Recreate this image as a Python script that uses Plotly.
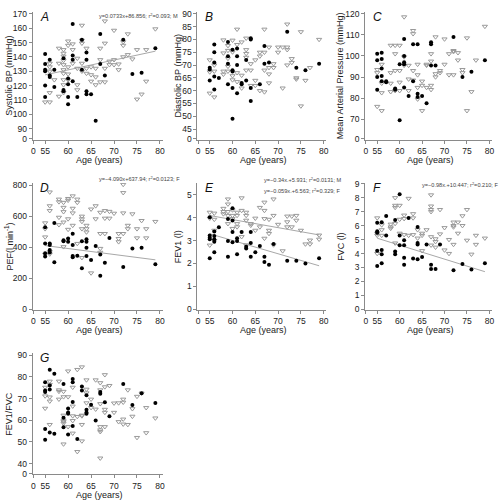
import plotly.graph_objects as go

# ---------------- DATA ----------------
x_ticks = [55, 60, 65, 70, 75, 80]

# A: Systolic BP
sbp_m_age = [55,55,55,55,55,55, 56,56,56, 57,57, 59,59,59, 60,60,60,60, 61,61,61,61, 62, 63,63, 64,64,64,64, 65, 66, 67,67, 68, 72, 74, 76, 79]
sbp_m     = [142,135,131,130,120,112, 138,127,126, 131,119, 139,117,116, 125,121,112,107, 163,141,138,123, 112, 152,131, 143,138,116,114, 114, 95.5, 156,135, 127, 152, 128, 129, 146]
sbp_f_age = [55, 56,56,56,56,56, 57, 58,58,58, 59,59,59,59,59,59,59,59,59,59, 60,60,60,60,60, 61,61,61, 62,62,62,62, 63,63,63,63,63, 64,64,64, 65,65,65, 66,66,66, 67,67,67, 68,68,68,68, 69,69, 70,70,70, 71,71, 72,72,72, 73,73, 74, 75,75, 76, 77,77, 79]
sbp_f     = [108.5, 108.5,115,133,130,135.5, 124, 146,135.5,112.5, 145,142.5,140.5,137.5,134.5,131,128.5,124,120.5,115, 151,148,133,128,124, 149,145,135.5, 139,132,120.5,117, 162,151.5,149.5,135.5,130, 146,132,128.5, 133,127.5,123, 132,126,120.5, 146,138,122.5, 165,149.5,132,122.5, 137,134.5, 158.5,138,134.5, 135,131, 150.5,148,140, 156,141.5, 138.5, 145,110.5, 114, 145,123, 159.5]
fitA_x = [55, 79]
fitA_y = [127.5, 144]

# B: Diastolic BP
dbp_m_age = [55,55,55, 56,56,56,56,56, 57, 59,59,59,59, 60,60,60,60,60, 61,61,61,61, 62,62, 63,63, 64,64,64,64, 66, 67,67, 68, 72, 74, 76, 79]
dbp_m     = [68.3,69,64, 78,75,71,65.5,60.5, 65, 79,73.5,70.5,62.5, 76,68,67.5,61,49, 76.5,73.5,70,59, 63,62.5, 72,64, 80.5,80,61,56, 62.5, 77.5,70.5, 71, 83, 69, 68, 70.5]
dbp_f_age = [55,55,55, 56,56,56, 58,58,58,58, 59,59,59,59,59, 60,60,60,60, 61,61,61,61, 62,62,62, 63,63,63,63,63, 64,64,64, 65,65,65, 66,66,66, 67,67,67,67, 68,68,68,68, 69,69, 70,70, 71,71, 72,72,72,72, 73,73, 74,74, 75,75, 76, 77, 79]
dbp_f     = [72,67.3,59, 70,67.6,57.5, 79.8,74.7,67.6,66.4, 77.6,75.7,72.6,69.5,67.6, 79.7,75.1,65.8,64.2, 84,78,67,63.5, 79,66,61, 80.5,76,74.5,73,68, 70.5,68,62, 72,64,62, 75,73.5,60, 84,75,68,59.5, 77,69,66.5,63, 70.5,69, 77,75, 77,61, 86,77,76,70, 72.5,71, 65,64.5, 83,54, 64, 69, 80]

# C: Mean arterial pressure
map_m_age = [55,55,55,55, 56,56,56,56,56, 57,57, 59,59, 60,60, 61,61,61,61,61, 62, 63,63, 64,64,64, 65, 66, 67,67,67, 68, 72, 74, 76, 79]
map_m     = [101,98,90,84, 101.5,98.5,94,90.5,88, 88,87.5, 84.5,84, 96,69.5, 108,100,97,96,85, 81, 105.5,88, 105.5,82,80.5, 81, 77.5, 106.5,105.5,95.5, 95.5, 109, 90, 92.5, 98]
map_f_age = [55,55,55, 56,56,56,56, 58,58,58,58, 59,59,59,59, 60,60,60,60, 61,61,61, 62,62,62, 63,63,63,63, 64,64,64,64, 65,65,65, 66,66,66, 67,67,67,67, 68,68,68, 69,69, 70,70, 71,71, 72,72,72, 73,73, 74,74, 75,75, 76, 77, 79]
map_f     = [93.5,92,76, 96,87,82.5,74, 105,92,87,83, 105,101,93,83.5, 105,93,87.5,83.5, 118.5,99.5,95.5, 95.5,89,83.5, 112,110.5,93,88.5, 96,91,85,79.5, 88,86,74, 96,95.5,85, 101,97.5,86,84, 109,91.5,90, 93,92, 108,96, 101,91, 102.5,102,91, 101.5,98, 93.5,92, 108.5,74, 83, 98, 114]

# D: PEF
pef_m_age = [55,55,55,55, 56,56,56,56, 57,57, 59,59, 60,60, 61,61,61,61, 62, 63,63, 64,64,64,64, 65, 66, 67,67, 68, 69, 72, 74, 76, 79]
pef_m     = [529,423,360,339, 423,413,381,366, 556,303, 444,438, 455,434, 487,413,343,334, 345, 438,264, 451,434,396,343, 317, 408, 353,216, 300, 459, 271, 391, 396, 290]
pef_f_age = [55,55,55,55, 56,56,56,56,56, 58,58,58,58, 59,59,59,59,59, 60,60,60,60, 61,61,61,61, 62,62,62, 63,63,63,63,63, 64,64,64, 65,65, 66,66, 67,67,67,67, 68,68,68, 69,69, 70, 71,71,71, 72,72,72,72, 73,73, 74, 75,75, 76, 77,77, 79]
pef_f     = [556,518,465,353, 755,666,635,370,355, 709,692,592,544, 688,656,628,561,402, 713,702,582,514, 730,650,620,540, 709,688,423, 599,582,565,518,332, 540,518,497, 645,233, 666,582, 624,487,391,366, 635,586,487, 630,586, 618, 487,455,434, 804,751,620,487, 540,518, 614, 518,459, 571, 518,459, 565]
fitD_x = [55, 79]
fitD_y = [410, 318]

# E: FEV1
fev_m_age = [55,55,55,55,55, 56,56,56,56,56, 57, 59,59,59, 60,60,60,60, 61,61,61, 62, 63,63, 64,64,64, 65, 66, 67,67, 68, 69, 72, 74, 76, 79]
fev_m     = [4.03,3.23,3.13,3.06,2.23, 3.4,3.2,3.06,2.95,2.49, 3.59, 3.95,2.98,2.3, 4.42,3.88,3.38,2.93, 3.1,2.98,2.4, 3.38, 2.73,2.66, 3.38,2.9,2.3, 2.49, 2.77, 2.3,2.06, 1.94, 2.85, 2.12, 2.12, 2.0, 2.23]
fev_f_age = [55,55,55, 56,56,56,56, 58,58,58, 59,59,59,59,59, 60,60,60,60, 61,61,61,61, 62,62,62, 63,63,63,63, 64,64, 65,65, 66,66, 67,67,67,67, 68,68,68, 69,69,69, 70, 71, 72,72,72, 73,73, 74,74, 75, 76, 77,77, 79,79]
fev_f     = [4.24,3.98,2.8, 4.2,3.93,3.45,3.0, 4.41,4.27,4.17, 4.82,4.6,4.27,4.1,3.74, 4.34,4.1,3.96,3.53, 4.24,4.1,3.74,3.6, 4.87,4.32,3.17, 4.24,4.1,3.89,2.81, 3.74,3.67, 3.98,3.45, 4.45,3.6, 4.68,4.32,3.96,3.1, 3.93,3.45,3.31, 4.82,4.1,2.81, 3.71, 2.55, 4.07,3.82,3.6, 4.07,3.6, 4.1,3.89, 3.45, 2.85, 3.02,2.85, 3.24,3.06]
fitE_m_x = [55, 79]
fitE_m_y = [3.3, 1.9]
fitE_f_x = [55, 79]
fitE_f_y = [4.1, 3.25]

# F: FVC
fvc_m_age = [55,55,55,55,55, 56,56,56,56, 57,57, 59,59,59, 60,60,60, 61,61,61,61, 62, 63, 64,64,64,64, 65, 66, 67,67, 68, 69, 72, 74, 76, 79]
fvc_m     = [6.2,5.6,5.5,4.2,3.1, 6.25,4.25,3.95,3.3, 6.7,5.3, 6.4,4.15,3.95, 8.25,5.3,4.6, 4.95,4.6,3.7,3.2, 6.55, 3.65, 5.9,4.75,4.65,3.6, 3.75, 4.65, 3.2,2.9, 2.9, 4.65, 2.8, 3.25, 2.85, 3.3]
fvc_f_age = [55,55,55,55, 56,56,56, 58,58,58, 59,59,59,59,59, 60,60,60, 61,61,61, 62,62, 63,63,63, 64,64, 65,65,65, 66, 67,67,67,67,67,67, 68,68,68, 69,69, 70,70, 71,71, 72,72,72,72, 73,73, 74,74, 75,75, 76, 77,77, 79]
fvc_f     = [6.55,5.45,5.3,4.0, 6.05,5.7,5.3, 6.1,5.9,5.8, 8.0,7.45,7.3,6.15,4.75, 7.45,6.45,5.45, 6.75,6.5,5.35, 7.95,5.3, 6.85,6.55,5.35, 5.7,5.1, 5.45,5.3,4.2, 5.7, 8.2,7.4,7.15,7.0,5.2,4.6, 5.05,4.85,4.45, 7.15,5.4, 5.85,4.25, 5.0,4.0, 6.25,6.0,5.9,4.65, 6.25,5.45, 6.7,6.0, 7.15,4.95, 3.95, 5.3,4.65, 5.1]
fitF_x = [55, 79]
fitF_y = [5.1, 2.7]

# G: FEV1/FVC
rat_m_age = [55,55,55,55,55, 56,56,56,56, 57,57, 59,59,59, 60,60,60,60, 61,61,61,61, 62, 63,63, 64,64,64,64, 65, 66, 67,67, 68, 69, 72, 74, 76, 79]
rat_m     = [77.5,73.7,73,56,51, 83.3,76,74.2,54.3, 81.5,53.8, 76.7,61.2,56.8, 65.4,63.6,63,53.4, 79,77.5,68.4,57.3, 51.4, 75.6,73.7, 71.5,64.8,63.6,63, 67.2, 59.9, 73,72.2, 68.3, 61.8, 76.7, 67, 72.5, 68]
rat_f_age = [55,55,55, 56,56,56,56,56, 58,58,58,58, 59,59,59,59,59,59,59, 60,60,60, 61,61,61,61,61, 62,62,62, 63,63,63,63,63, 64,64,64,64, 65,65, 66,66, 67,67,67,67,67,67,67, 68,68,68,68,68, 69, 70,70, 71,71, 72,72,72,72, 73,73, 74,74, 75,75, 76, 77,77, 79]
rat_f     = [75.2,71.2,65.5, 78,76.5,70.7,68.8,58, 78,74,73.3,69.7, 73.3,70.8,62.3,60,59.3,58.6,49, 82.7,70.8,57, 75.2,66.5,62,59.8,54, 83.4,61.7,45.5, 84.6,62.3,62,58,50.4, 78.6,74.3,72.6,68, 69.7,65.8, 78.6,65.1, 77.3,74,67.6,57,55.5,54.7,42.5, 81,75.4,65,63.6,57, 76, 67.9,63.6, 68,59.3, 69.7,68.3,60.5,58.2, 74,58, 65.3,61.8, 71,52, 72.5, 65.8,54.2, 61]

# ---------------- LAYOUT ----------------
W, H = 504, 503
def fx(px): return px / W
def fy(py): return 1 - py / H

col_px = [(31, 162), (197, 327), (366, 494)]
row_px = [(8, 138), (182, 311), (355, 478)]
XR = [52.3, 80.6]
X0 = 52.45   # position used for the "0" label of the broken age axis

FONT = "Liberation Sans, Arial, sans-serif"
MC = "#000000"
FC = "#999999"
LC = "#a8a8a8"
AX = "#8a8a8a"
TF = 8.5
TT = 9

panels = [
    dict(c=0, r=0, L="A", yt="Systolic BP (mmHg)", yr=[82.2, 171.4],
         tv=[83, 90, 100, 110, 120, 130, 140, 150, 160, 170],
         tt=["0", "90", "100", "110", "120", "130", "140", "150", "160", "170"],
         m=(sbp_m_age, sbp_m), f=(sbp_f_age, sbp_f), fits=[(fitA_x, fitA_y)]),
    dict(c=1, r=0, L="B", yt="Diastolic BP (mmHg)", yr=[40.8, 90.8],
         tv=[41.2, 45, 50, 55, 60, 65, 70, 75, 80, 85, 90],
         tt=["0", "45", "50", "55", "60", "65", "70", "75", "80", "85", "90"],
         m=(dbp_m_age, dbp_m), f=(dbp_f_age, dbp_f), fits=[]),
    dict(c=2, r=0, L="C", yt="Mean Arterial Pressure (mmHg)", yr=[60.2, 120.9],
         tv=[60.7, 70, 80, 90, 100, 110, 120],
         tt=["0", "70", "80", "90", "100", "110", "120"],
         m=(map_m_age, map_m), f=(map_f_age, map_f), fits=[]),
    dict(c=0, r=1, L="D", yt="PEF(l min<sup>-1</sup>)", yr=[-6, 813],
         tv=[0, 200, 400, 600, 800], tt=["0", "200", "400", "600", "800"],
         m=(pef_m_age, pef_m), f=(pef_f_age, pef_f), fits=[(fitD_x, fitD_y)]),
    dict(c=1, r=1, L="E", yt="FEV1 (l)", yr=[-0.04, 5.52],
         tv=[0, 1, 2, 3, 4, 5], tt=["0", "1", "2", "3", "4", "5"],
         m=(fev_m_age, fev_m), f=(fev_f_age, fev_f), fits=[(fitE_m_x, fitE_m_y), (fitE_f_x, fitE_f_y)]),
    dict(c=2, r=1, L="F", yt="FVC (l)", yr=[-0.05, 9.05],
         tv=list(range(10)), tt=[str(i) for i in range(10)],
         m=(fvc_m_age, fvc_m), f=(fvc_f_age, fvc_f), fits=[(fitF_x, fitF_y)]),
    dict(c=0, r=2, L="G", yt="FEV1/FVC", yr=[35.0, 90.9],
         tv=[35.3, 40, 50, 60, 70, 80, 90],
         tt=["0", "40", "50", "60", "70", "80", "90"],
         m=(rat_m_age, rat_m), f=(rat_f_age, rat_f), fits=[]),
]

fig = go.Figure()
layout = dict(width=W, height=H, margin=dict(l=0, r=0, t=0, b=0),
              paper_bgcolor="white", plot_bgcolor="white", showlegend=False,
              font=dict(family=FONT, color="#222", size=TF))
annotations = []

ytitle_x = {0: 7, 1: 177, 2: 341}
for i, p in enumerate(panels):
    k = i + 1
    xa = "xaxis" if k == 1 else f"xaxis{k}"
    ya = "yaxis" if k == 1 else f"yaxis{k}"
    xr = "x" if k == 1 else f"x{k}"
    yr = "y" if k == 1 else f"y{k}"
    cx0, cx1 = col_px[p["c"]]
    ry0, ry1 = row_px[p["r"]]
    layout[xa] = dict(domain=[fx(cx0), fx(cx1)], anchor=yr, range=XR,
                      tickvals=[X0] + x_ticks, ticktext=["0"] + [str(t) for t in x_ticks],
                      showline=True, linecolor=AX, linewidth=1, ticks="outside",
                      ticklen=3, tickcolor=AX, showgrid=False, zeroline=False,
                      ticklabeloverflow="allow",
                      tickfont=dict(size=TF, family=FONT, color="#222"))
    layout[ya] = dict(domain=[fy(ry1), fy(ry0)], anchor=xr, range=p["yr"],
                      tickvals=p["tv"], ticktext=p["tt"],
                      showline=True, linecolor=AX, linewidth=1, ticks="outside",
                      ticklen=3, tickcolor=AX, showgrid=False, zeroline=False,
                      ticklabeloverflow="allow",
                      tickfont=dict(size=TF, family=FONT, color="#222"))
    for fxs, fys in p["fits"]:
        fig.add_trace(go.Scatter(x=fxs, y=fys, mode="lines", xaxis=xr, yaxis=yr,
                                 line=dict(color=LC, width=1), hoverinfo="skip"))
    fig.add_trace(go.Scatter(x=p["f"][0], y=p["f"][1], mode="markers", xaxis=xr, yaxis=yr,
                             marker=dict(symbol="triangle-down-open", size=4.5, color=FC,
                                         line=dict(width=1, color=FC))))
    fig.add_trace(go.Scatter(x=p["m"][0], y=p["m"][1], mode="markers", xaxis=xr, yaxis=yr,
                             marker=dict(symbol="circle", size=4, color=MC,
                                         line=dict(width=0))))
    # panel letter
    annotations.append(dict(text="<i>" + p["L"] + "</i>", x=fx(cx0 + 12), y=fy(ry0 + 5),
                            xref="paper", yref="paper",
                            xanchor="center", yanchor="middle", showarrow=False,
                            font=dict(size=12, family=FONT, color="#111")))
    # y title
    annotations.append(dict(text=p["yt"], x=fx(ytitle_x[p["c"]]), y=fy((ry0 + ry1) / 2),
                            xref="paper", yref="paper", xanchor="center", yanchor="middle",
                            showarrow=False, textangle=-90,
                            font=dict(size=TT, family=FONT, color="#222")))
    # x title
    annotations.append(dict(text="Age (years)", x=fx((cx0 + cx1) / 2 + 2), y=fy(ry1 + 20.5),
                            xref="paper", yref="paper", xanchor="center", yanchor="middle",
                            showarrow=False, font=dict(size=TT, family=FONT, color="#222")))

eq_font = dict(size=5.6, family=FONT, color="#444")
eqs = [
    ("y=0.0733x+86.856; r<sup>2</sup>=0.093; M", 96, 12),
    ("y=\u22124.090x+637.94; r<sup>2</sup>=0.0123; F", 96, 177),
    ("y=\u22120.34x.+5.931; r<sup>2</sup>=0.0131; M", 262, 178),
    ("y=\u22120.059x.+6.563; r<sup>2</sup>=0.329; F", 262, 190),
    ("y=\u22120.98x.+10.447; r<sup>2</sup>=0.210; F", 421, 183),
]
for t, px, py in eqs:
    annotations.append(dict(text=t, x=fx(px), y=fy(py), xref="paper", yref="paper",
                            xanchor="left", yanchor="middle", showarrow=False, font=eq_font))

layout["annotations"] = annotations
fig.update_layout(**layout)
fig.write_html("out.html", config={"displayModeBar": False},
               post_script="document.body.style.margin='0px';document.body.style.overflow='hidden';")
